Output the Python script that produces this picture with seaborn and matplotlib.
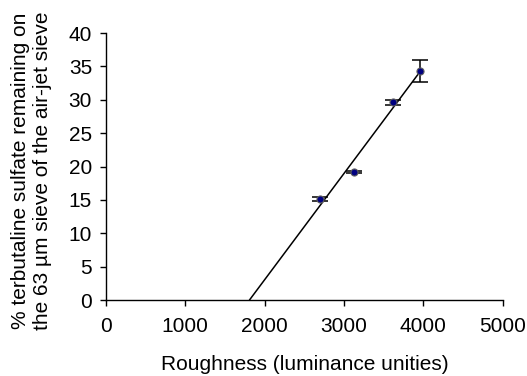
import numpy as np
import pandas as pd
import matplotlib
matplotlib.use("Agg")
import matplotlib.pyplot as plt
import seaborn as sns

roughness = [2695, 3128, 3619, 3959]
retained = [15.1, 19.2, 29.6, 34.3]
retained_err = [0.3, 0.1, 0.35, 1.7]
x_ticks = [0, 1000, 2000, 3000, 4000, 5000]
y_ticks = [0, 5, 10, 15, 20, 25, 30, 35, 40]

sns.set_style("white")
plt.rcParams['font.family'] = ['Liberation Sans', 'DejaVu Sans']
plt.rcParams.update({"text.color": "black", "axes.labelcolor": "black",
                     "xtick.color": "black", "ytick.color": "black"})

fs = 15
fig = plt.figure(figsize=(5.27, 3.76), dpi=100)
ax = fig.add_axes([0.201, 0.202, 0.753, 0.710])

df = pd.DataFrame({"x": roughness, "y": retained})

# regression line from x-intercept to max x
slope, intercept = np.polyfit(roughness, retained, 1)
x0 = -intercept / slope
xl = np.array([x0, max(roughness)])
sns.lineplot(x=xl, y=slope * xl + intercept, ax=ax, color="black", linewidth=1.1)

ax.errorbar(roughness, retained, yerr=retained_err, fmt="none", ecolor="black",
            elinewidth=1.1, capsize=5.5, capthick=1.1, zorder=3)
sns.scatterplot(data=df, x="x", y="y", ax=ax, color="#000080", edgecolor="#606060",
                s=26, linewidth=0.8, zorder=4)

ax.set_xlim(0, 5000)
ax.set_ylim(0, 40)
ax.set_xticks(x_ticks)
ax.set_yticks(y_ticks)
ax.tick_params(axis="both", direction="out", length=4, width=1, color="black",
               labelcolor="black", labelsize=fs, bottom=True, left=True)
ax.tick_params(axis="x", pad=8)
ax.tick_params(axis="y", pad=6)
for s in ["top", "right"]:
    ax.spines[s].set_visible(False)
for s in ["left", "bottom"]:
    ax.spines[s].set_color("black")
    ax.spines[s].set_linewidth(1)

ax.set_xlabel("Roughness (luminance unities)", fontsize=fs, labelpad=14, color="black")
ax.set_ylabel("% terbutaline sulfate remaining on\nthe 63 µm sieve of the air-jet sieve",
              fontsize=fs, linespacing=1.2, color="black")
ax.yaxis.set_label_coords(-0.135, 0.485)

fig.savefig("out.png", dpi=100)
